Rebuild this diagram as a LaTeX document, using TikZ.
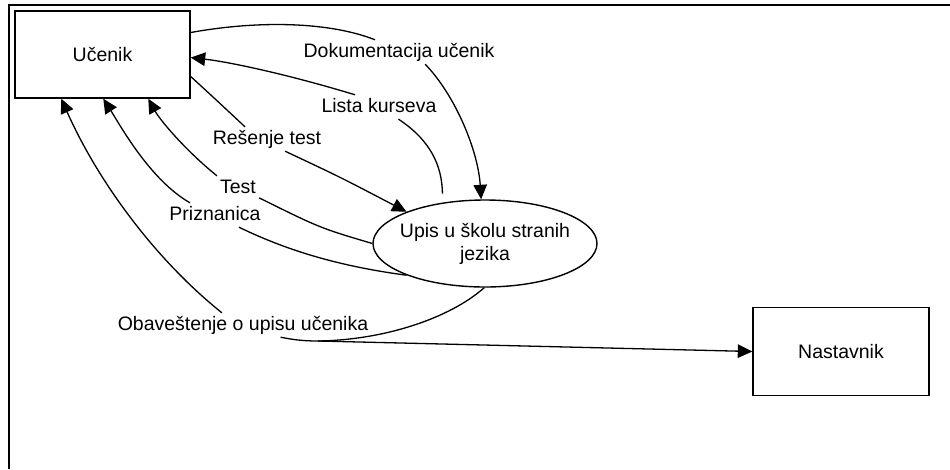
\documentclass[tikz,border=0pt]{standalone}
\usepackage{fontspec}
\setmainfont{Liberation Sans}
\usetikzlibrary{shapes.geometric,arrows.meta}
\newcommand\dfdfont{\fontsize{19.5}{23}\selectfont}
\tikzset{
  box/.style={draw, line width=1.4pt, minimum width=175pt, minimum height=87pt, inner sep=0pt, font=\dfdfont},
  flow/.style={line width=1.3pt},
  arr/.style={flow, -{Triangle[length=14.5pt,width=13.5pt]}},
  lab/.style={anchor=base, inner sep=3pt, text height=14pt, text depth=4pt, font=\dfdfont},
}
\begin{document}
\begin{tikzpicture}[x=1pt,y=-1pt]
\useasboundingbox (0,0) rectangle (950,469);
% outer frame (only top and left visible)
\draw[line width=2.5pt] (9,469) -- (9,5) -- (951,5);

\node[box] (U) at (102.5,54.5) {Učenik};
\node[box, minimum width=176pt, minimum height=88pt] (N) at (841,351.5) {Nastavnik};
\node[ellipse, draw, line width=1.4pt, minimum width=224pt, minimum height=87pt, inner sep=0pt] (E) at (485,243.5) {};
\node[font=\dfdfont, align=center, inner sep=0pt] (Et) at (E.center) {Upis u školu stranih\\jezika};

\node[lab] (L1) at (399,57) {Dokumentacija učenik};
\node[lab] (L2) at (379,112) {Lista kurseva};
\node[lab] (L3) at (267,144) {Rešenje test};
\node[lab] (L4) at (238,193) {Test};
\node[lab] (L5) at (215,220) {Priznanica};
\node[lab] (L6) at (243,330) {Obaveštenje o upisu učenika};
\coordinate (J) at (318,341);

% Dokumentacija ucenik
\draw[flow] (U.14) .. controls (260,20) and (330,22) .. (L1.153);
\draw[arr] (L1.-25) .. controls (455,95) and (478,150) .. (E.95);
% Lista kurseva
\draw[flow, shorten <=9pt] (E.136) .. controls (442,165) and (430,140) .. (L2.-32);
\draw[arr] (L2.153) .. controls (290,75) and (230,62) .. (U.-2);
% Resenje test
\draw[flow] (U.-14) .. controls (212,96) .. (L3.151);
\draw[arr] (L3.-34) .. controls (340,177) .. (E.158);
% Test
\draw[flow] (E.west) .. controls (320,228) .. (L4.-25);
\draw[arr] (L4.north west) .. controls (185,150) and (160,120) .. (U.-44);
% Priznanica
\draw[flow] (E.202) .. controls (330,265) and (280,247) .. (L5.-27);
\draw[arr] (L5.154) .. controls (150,180) and (120,125) .. (U.-89);
% Obavestenje o upisu ucenika
\draw[flow] (E.-91) .. controls (450,318) and (385,340) .. (J);
\draw[arr] (J) -- (N.west);
\draw[flow] (J) .. controls (300,341) and (290,339) .. (L6.-18);
\draw[arr] (L6.150) .. controls (150,255) and (95,175) .. (U.-133);
\end{tikzpicture}
\end{document}
